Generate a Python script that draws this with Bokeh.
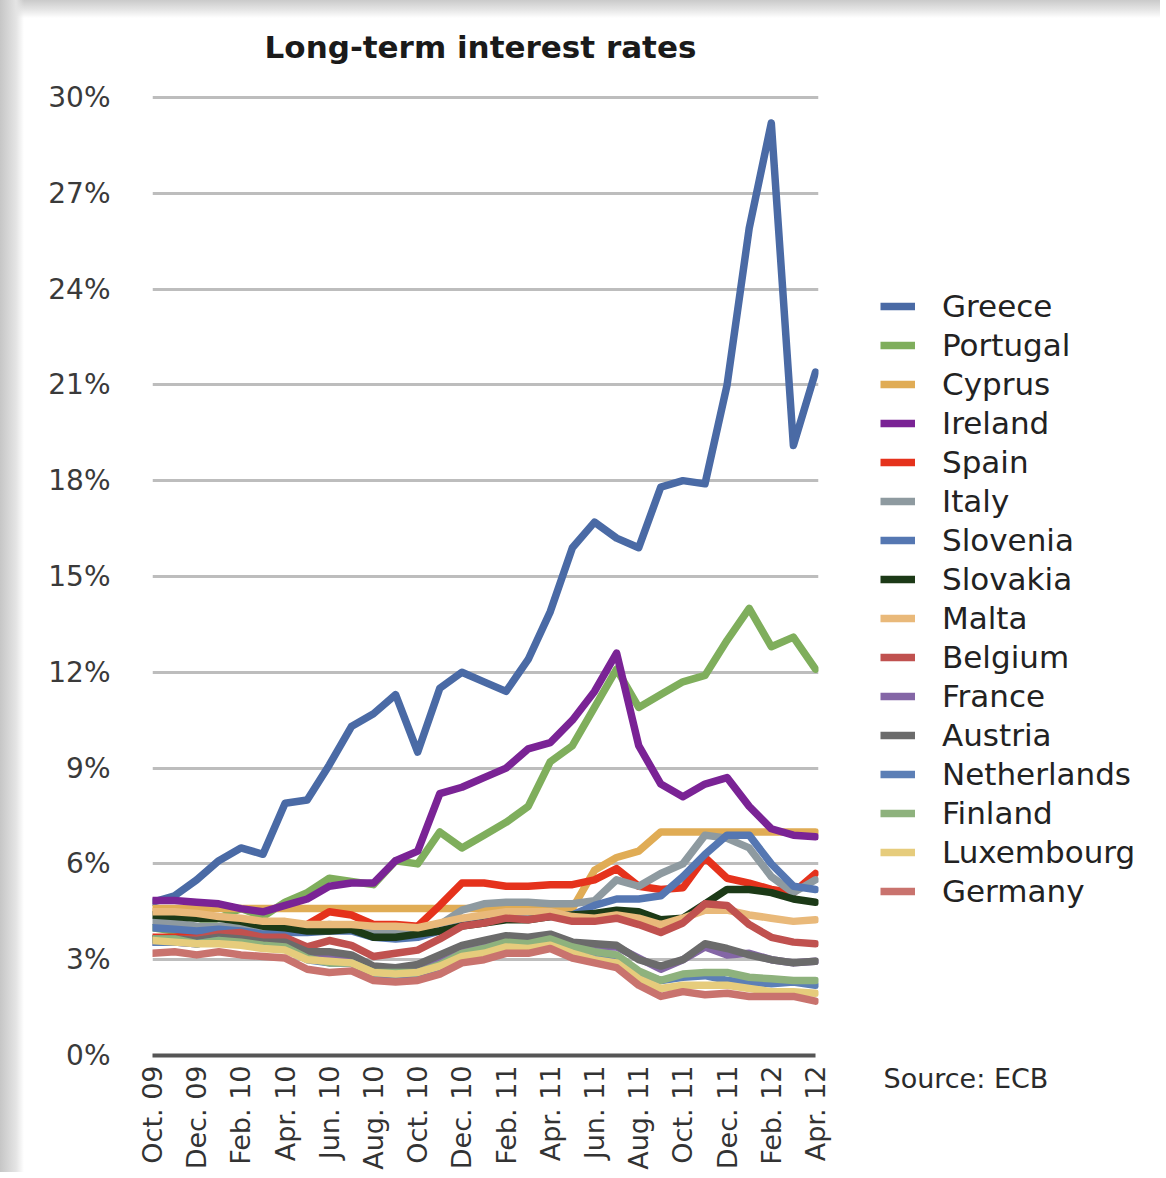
import math
from bokeh.plotting import figure
from bokeh.layouts import row
from bokeh.models import Range1d, FixedTicker, Legend, LegendItem, Label, Title
from bokeh.embed import file_html
from bokeh.resources import INLINE

FONT = "DejaVu Sans"

months = ["Oct. 09", "Nov. 09", "Dec. 09", "Jan. 10", "Feb. 10", "Mar. 10", "Apr. 10", "May 10",
          "Jun. 10", "Jul. 10", "Aug. 10", "Sep. 10", "Oct. 10", "Nov. 10", "Dec. 10", "Jan. 11",
          "Feb. 11", "Mar. 11", "Apr. 11", "May 11", "Jun. 11", "Jul. 11", "Aug. 11", "Sep. 11",
          "Oct. 11", "Nov. 11", "Dec. 11", "Jan. 12", "Feb. 12", "Mar. 12", "Apr. 12"]

y_ticks = [0, 3, 6, 9, 12, 15, 18, 21, 24, 27, 30]

greece = [4.8, 5.0, 5.5, 6.1, 6.5, 6.3, 7.9, 8.0, 9.1, 10.3, 10.7, 11.3, 9.5, 11.5, 12.0, 11.7,
          11.4, 12.4, 13.9, 15.9, 16.7, 16.2, 15.9, 17.8, 18.0, 17.9, 21.0, 25.9, 29.2, 19.1, 21.4]
portugal = [4.0, 3.9, 4.0, 4.3, 4.6, 4.35, 4.8, 5.1, 5.55, 5.45, 5.35, 6.1, 6.0, 7.0, 6.5, 6.9,
            7.3, 7.8, 9.2, 9.7, 10.9, 12.1, 10.9, 11.3, 11.7, 11.9, 13.0, 14.0, 12.8, 13.1, 12.1]
cyprus = [4.6, 4.6, 4.6, 4.6, 4.6, 4.6, 4.6, 4.6, 4.6, 4.6, 4.6, 4.6, 4.6, 4.6, 4.6, 4.6,
          4.6, 4.6, 4.6, 4.6, 5.8, 6.2, 6.4, 7.0, 7.0, 7.0, 7.0, 7.0, 7.0, 7.0, 7.0]
ireland = [4.85, 4.85, 4.8, 4.75, 4.6, 4.5, 4.7, 4.9, 5.3, 5.4, 5.4, 6.1, 6.4, 8.2, 8.4, 8.7,
           9.0, 9.6, 9.8, 10.5, 11.4, 12.6, 9.7, 8.5, 8.1, 8.5, 8.7, 7.8, 7.1, 6.9, 6.85]
spain = [3.7, 3.7, 3.8, 4.0, 4.0, 3.85, 3.9, 4.1, 4.5, 4.4, 4.1, 4.1, 4.05, 4.7, 5.4, 5.4,
         5.3, 5.3, 5.35, 5.35, 5.5, 5.85, 5.3, 5.2, 5.25, 6.2, 5.55, 5.4, 5.2, 5.1, 5.7]
italy = [4.2, 4.15, 4.05, 4.05, 4.0, 3.9, 3.95, 4.0, 4.1, 4.05, 3.85, 3.9, 3.85, 4.1, 4.55, 4.75,
         4.8, 4.8, 4.75, 4.75, 4.85, 5.5, 5.3, 5.7, 6.0, 6.9, 6.8, 6.5, 5.6, 5.1, 5.5]
slovenia = [4.0, 3.95, 3.9, 3.95, 3.9, 3.8, 3.85, 3.85, 3.9, 3.9, 3.7, 3.65, 3.7, 3.9, 4.2, 4.25,
            4.3, 4.3, 4.35, 4.4, 4.7, 4.9, 4.9, 5.0, 5.6, 6.3, 6.9, 6.9, 6.0, 5.3, 5.2]
slovakia = [4.4, 4.35, 4.3, 4.3, 4.2, 4.05, 4.0, 3.9, 3.9, 3.95, 3.7, 3.7, 3.8, 3.9, 4.05, 4.15,
            4.25, 4.25, 4.35, 4.4, 4.45, 4.55, 4.5, 4.25, 4.3, 4.75, 5.2, 5.2, 5.1, 4.9, 4.8]
malta = [4.5, 4.5, 4.45, 4.35, 4.3, 4.2, 4.2, 4.1, 4.1, 4.1, 4.05, 4.05, 4.0, 4.15, 4.3, 4.4,
         4.5, 4.5, 4.5, 4.35, 4.3, 4.4, 4.3, 4.1, 4.3, 4.55, 4.55, 4.4, 4.3, 4.2, 4.25]
belgium = [3.65, 3.65, 3.65, 3.8, 3.85, 3.7, 3.7, 3.4, 3.6, 3.45, 3.1, 3.2, 3.3, 3.65, 4.05, 4.15,
           4.3, 4.25, 4.35, 4.2, 4.2, 4.3, 4.1, 3.85, 4.15, 4.75, 4.7, 4.1, 3.7, 3.55, 3.5]
france = [3.55, 3.55, 3.5, 3.6, 3.5, 3.45, 3.45, 3.1, 3.05, 3.0, 2.7, 2.65, 2.7, 2.95, 3.35, 3.45,
          3.6, 3.6, 3.65, 3.45, 3.4, 3.4, 3.05, 2.7, 3.0, 3.4, 3.15, 3.2, 3.0, 2.9, 2.95]
austria = [3.65, 3.65, 3.6, 3.7, 3.65, 3.55, 3.55, 3.25, 3.25, 3.15, 2.8, 2.75, 2.85, 3.15, 3.45, 3.6,
           3.75, 3.7, 3.8, 3.55, 3.5, 3.45, 3.0, 2.8, 3.0, 3.5, 3.35, 3.15, 3.0, 2.9, 2.95]
netherlands = [3.55, 3.55, 3.5, 3.6, 3.5, 3.4, 3.35, 3.0, 2.9, 2.9, 2.55, 2.5, 2.55, 2.75, 3.1, 3.25,
               3.45, 3.4, 3.5, 3.3, 3.2, 3.1, 2.6, 2.35, 2.45, 2.5, 2.35, 2.3, 2.25, 2.3, 2.2]
finland = [3.65, 3.65, 3.5, 3.6, 3.55, 3.45, 3.4, 3.05, 2.9, 2.9, 2.6, 2.6, 2.6, 2.85, 3.2, 3.35,
           3.55, 3.5, 3.65, 3.4, 3.25, 3.15, 2.65, 2.35, 2.55, 2.6, 2.6, 2.45, 2.4, 2.35, 2.35]
luxembourg = [3.6, 3.55, 3.5, 3.5, 3.45, 3.35, 3.3, 3.0, 2.95, 2.9, 2.6, 2.55, 2.6, 2.8, 3.1, 3.2,
              3.4, 3.35, 3.45, 3.2, 3.0, 2.9, 2.4, 2.1, 2.2, 2.2, 2.2, 2.1, 2.0, 2.0, 1.95]
germany = [3.2, 3.25, 3.15, 3.25, 3.15, 3.1, 3.05, 2.7, 2.6, 2.65, 2.35, 2.3, 2.35, 2.55, 2.9, 3.0,
           3.2, 3.2, 3.35, 3.05, 2.9, 2.75, 2.2, 1.85, 2.0, 1.9, 1.95, 1.85, 1.85, 1.85, 1.7]

countries = ["Greece", "Portugal", "Cyprus", "Ireland", "Spain", "Italy", "Slovenia", "Slovakia",
             "Malta", "Belgium", "France", "Austria", "Netherlands", "Finland", "Luxembourg", "Germany"]
series = [greece, portugal, cyprus, ireland, spain, italy, slovenia, slovakia,
          malta, belgium, france, austria, netherlands, finland, luxembourg, germany]
colors = ["#4A6AA5", "#7FAE5C", "#E0AC55", "#7A2395", "#E5321C", "#8E9AA0", "#5577B2", "#1C3A17",
          "#E9B97A", "#C0514F", "#8466A6", "#6B6B6B", "#5C7FB6", "#8EB27D", "#E6CC7C", "#C9736E"]

H = 1172
X0, X30 = 152, 815          # pixel positions of Oct. 09 and Apr. 12
Y0, Y30 = 1056, 97          # pixel positions of 0% and 30%
px_month = (X30 - X0) / 30.0
px_pct = (Y0 - Y30) / 30.0
FR = 818                    # right edge of the chart frame
W1 = 832                    # chart figure width (room for the last tick label)
x_end = (FR - X0) / px_month
y_end = Y0 / px_pct

p = figure(width=W1, height=H, output_backend="svg", toolbar_location=None,
           x_range=Range1d(0, x_end), y_range=Range1d(0, y_end),
           min_border_left=X0, min_border_right=W1 - FR, min_border_top=0,
           min_border_bottom=H - Y0)
p.outline_line_color = None
p.background_fill_color = None
p.border_fill_color = None

x = list(range(len(months)))
for name, vals, col in zip(countries, series, colors):
    p.line(x, vals, line_color=col, line_width=7.5, line_join="round", line_cap="round")

p.xaxis.ticker = FixedTicker(ticks=x[::2])
p.xaxis.major_label_overrides = {i: months[i] for i in x[::2]}
p.xaxis.major_label_orientation = math.pi / 2
p.xaxis.major_label_text_font = FONT
p.xaxis.major_label_text_font_size = "27px"
p.xaxis.major_label_text_color = "#333333"
p.xaxis.major_label_standoff = 10
p.xaxis.axis_line_color = "#555555"
p.xaxis.axis_line_width = 4
p.xaxis.bounds = (0, 30)
p.xaxis.major_tick_out = 0
p.xaxis.major_tick_in = 0
p.xaxis.minor_tick_out = 0
p.xaxis.minor_tick_in = 0

p.yaxis.ticker = FixedTicker(ticks=y_ticks)
p.yaxis.major_label_overrides = {t: f"{t}%" for t in y_ticks}
p.yaxis.major_label_text_font = FONT
p.yaxis.major_label_text_font_size = "28px"
p.yaxis.major_label_text_color = "#3a3a3a"
p.yaxis.major_label_standoff = 42
p.yaxis.axis_line_color = None
p.yaxis.major_tick_out = 0
p.yaxis.major_tick_in = 0
p.yaxis.minor_tick_out = 0
p.yaxis.minor_tick_in = 0

p.xgrid.grid_line_color = None
p.ygrid.grid_line_color = "#bdbdbd"
p.ygrid.grid_line_width = 3

title = Label(x=480 - X0, y=Y0 - 47, x_units="screen", y_units="screen",
              text="Long-term interest rates", text_font=FONT, text_font_style="bold",
              text_font_size="31px", text_color="#1a1a1a", text_align="center",
              text_baseline="middle")
p.add_layout(title)

# ---- legend panel (right); its frame is aligned with the chart frame (0..1056) ----
W2 = 1160 - W1
q = figure(width=W2, height=H, output_backend="svg", toolbar_location=None,
           x_range=Range1d(0, W2), y_range=Range1d(0, Y0),
           x_axis_location=None, y_axis_location=None,
           min_border_left=0, min_border_right=0, min_border_top=0,
           min_border_bottom=H - Y0)
q.grid.visible = False
q.outline_line_color = None
q.background_fill_color = None
q.border_fill_color = None

items = []
for name, col in zip(countries, colors):
    s = q.line([math.nan], [math.nan], line_color=col, line_width=7.5)
    items.append(LegendItem(label=name, renderers=[s]))

legend = Legend(items=items, location=(880 - W1, 146),
                label_text_font=FONT, label_text_font_size="31px", label_text_color="#222222",
                glyph_width=35, glyph_height=20, label_standoff=27, spacing=3,
                padding=0, margin=0, border_line_color=None, background_fill_alpha=0)
q.add_layout(legend)

source = Title(text="Source: ECB", align="left", offset=883 - W1, standoff=12,
               vertical_align="middle", text_font=FONT, text_font_size="27px",
               text_font_style="normal", text_color="#2a2a2a")
q.add_layout(source, "below")

layout = row(p, q, spacing=0, styles={
    "background-color": "white",
    "background-image": ("linear-gradient(to right, #c6c6c6 0px, #e4e4e4 16px, rgba(255,255,255,0) 24px), "
                         "linear-gradient(to bottom, #cacaca 0px, #e6e6e6 10px, rgba(255,255,255,0) 18px)"),
})
open("out.html", "w").write(file_html(layout, INLINE))
